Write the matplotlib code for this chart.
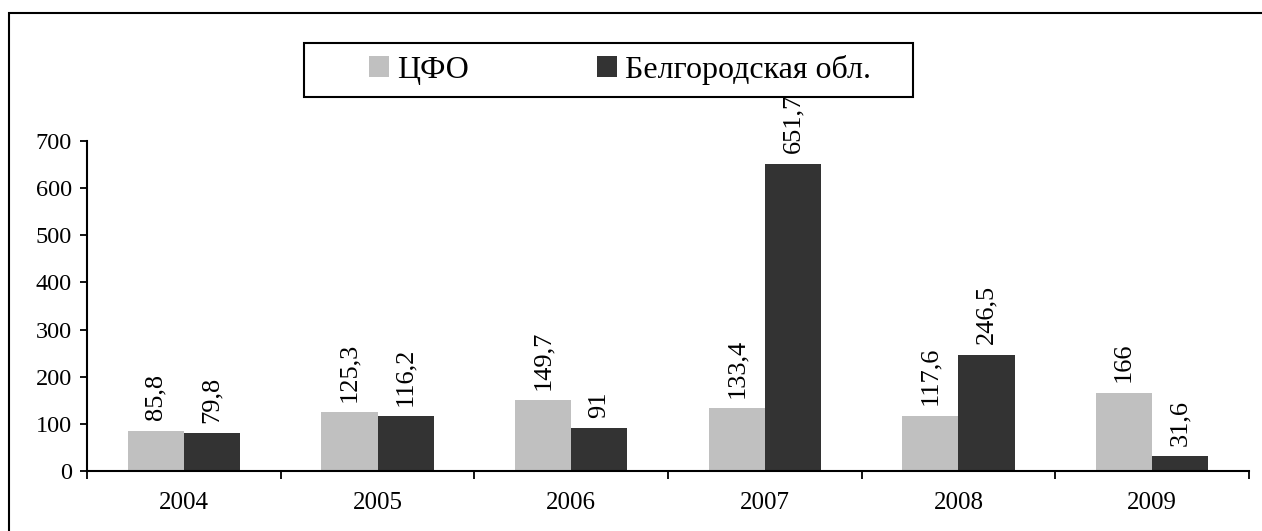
import numpy as np
import matplotlib
matplotlib.use("Agg")
import matplotlib.pyplot as plt
from matplotlib.patches import Rectangle

plt.rcParams['font.family'] = ['Liberation Serif', 'DejaVu Serif']

# data
years = ['2004', '2005', '2006', '2007', '2008', '2009']
cfo = [85.8, 125.3, 149.7, 133.4, 117.6, 166]
belgorod = [79.8, 116.2, 91, 651.7, 246.5, 31.6]
series_names = ['ЦФО', 'Белгородская обл.']
colors = ['#c0c0c0', '#333333']

W, H = 1262, 531
fig = plt.figure(figsize=(W / 100, H / 100), dpi=100)
ax = fig.add_axes([87 / W, 1 - 471 / H, (1249 - 87) / W, (471 - 141) / H])

x = np.arange(len(years))
bw = 0.29
b1 = ax.bar(x - bw / 2, cfo, bw, color=colors[0], label=series_names[0])
b2 = ax.bar(x + bw / 2, belgorod, bw, color=colors[1], label=series_names[1])

def fmt(v):
    return f"{v:g}".replace('.', ',')

for bars, vals in ((b1, cfo), (b2, belgorod)):
    for rect, v in zip(bars, vals):
        ax.annotate(fmt(v), (rect.get_x() + rect.get_width() / 2, v),
                    xytext=(0, 7.5), textcoords='offset points',
                    ha='center', va='bottom', rotation=90, fontsize=19,
                    annotation_clip=False)

ax.set_xlim(-0.5, len(years) - 0.5)
ax.set_ylim(0, 700)
ax.set_yticks(range(0, 701, 100))
ax.tick_params(axis='y', labelsize=17.5, length=5, width=1.3, pad=6, direction='out')

# year labels centred, separator ticks on category edges
ax.set_xticks(x)
ax.set_xticklabels(years)
ax.set_xticks(np.arange(-0.5, len(years)), minor=True)
ax.tick_params(axis='x', which='major', length=0, labelsize=18, pad=15)
ax.tick_params(axis='x', which='minor', length=6, width=1.3, direction='out')

for side in ('top', 'right'):
    ax.spines[side].set_visible(False)
for side in ('left', 'bottom'):
    ax.spines[side].set_linewidth(1.5)

# outer chart frame (right/bottom edges fall outside the image)
fig.add_artist(Rectangle((9 / W, -0.1), 1.2, 1 - 13 / H + 0.1, transform=fig.transFigure,
                         fill=False, lw=1.5, ec='black'))

# legend box
fig.add_artist(Rectangle((304 / W, 1 - 97 / H), (913 - 304) / W, 54 / H,
                         transform=fig.transFigure, fill=False, lw=1.5, ec='black'))
fig.legend(handles=[b1, b2], loc='center', bbox_to_anchor=(620 / W, 1 - 70 / H),
           ncol=2, frameon=False, fontsize=23, handlelength=0.62, handleheight=0.62,
           handletextpad=0.25, columnspacing=4.0, borderpad=0, borderaxespad=0)

fig.savefig('out.png', dpi=100)
